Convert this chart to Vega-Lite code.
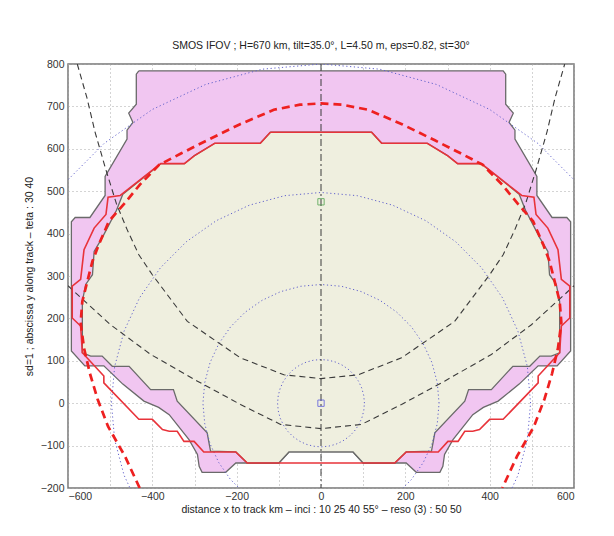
{
  "$schema": "https://vega.github.io/schema/vega-lite/v6.json",
  "width": 506,
  "height": 424,
  "autosize": {"type": "none"},
  "padding": {"left": 68, "top": 64, "right": 40, "bottom": 48},
  "background": "white",
  "title": {"text": "SMOS IFOV  ;  H=670 km, tilt=35.0°, L=4.50 m, eps=0.82, st=30°", "font": "Liberation Sans", "fontSize": 10.5, "fontWeight": "normal", "color": "#222", "offset": 8, "anchor": "middle"},
  "config": {
    "view": {"stroke": "#777", "strokeWidth": 1.5},
    "axis": {"labelFont": "Liberation Sans", "labelFontSize": 10.5, "labelColor": "#333", "titleFont": "Liberation Sans", "titleFontSize": 10.5, "titleFontWeight": "normal", "titleColor": "#222", "domain": false, "ticks": false, "grid": true, "gridColor": "#a8a8a8", "gridDash": [1, 3], "gridWidth": 1, "zindex": 1}
  },
  "datasets": {
    "pink": [
      {"i":1,"x":-432,"y":784},{"i":2,"x":432,"y":784},{"i":3,"x":438,"y":776},{"i":4,"x":438,"y":705},{"i":5,"x":456,"y":684},{"i":6,"x":446,"y":662},{"i":7,"x":460,"y":644},{"i":8,"x":460,"y":623},{"i":9,"x":512,"y":535},{"i":10,"x":512,"y":490},{"i":11,"x":548,"y":438},{"i":12,"x":583,"y":438},{"i":13,"x":592,"y":428},{"i":14,"x":592,"y":123},{"i":15,"x":560,"y":88},{"i":16,"x":515,"y":88},{"i":17,"x":470,"y":45},{"i":18,"x":420,"y":5},{"i":19,"x":385,"y":-10},{"i":20,"x":360,"y":-27},{"i":21,"x":313,"y":-86},{"i":22,"x":293,"y":-121},{"i":23,"x":289,"y":-149},{"i":24,"x":282,"y":-163},{"i":25,"x":226,"y":-163},{"i":26,"x":202,"y":-141},{"i":27,"x":100,"y":-141},{"i":28,"x":76,"y":-115},{"i":29,"x":-76,"y":-115},{"i":30,"x":-100,"y":-141},{"i":31,"x":-202,"y":-141},{"i":32,"x":-226,"y":-163},{"i":33,"x":-282,"y":-163},{"i":34,"x":-289,"y":-149},{"i":35,"x":-293,"y":-121},{"i":36,"x":-313,"y":-86},{"i":37,"x":-360,"y":-27},{"i":38,"x":-385,"y":-10},{"i":39,"x":-420,"y":5},{"i":40,"x":-470,"y":45},{"i":41,"x":-515,"y":88},{"i":42,"x":-560,"y":88},{"i":43,"x":-592,"y":123},{"i":44,"x":-592,"y":428},{"i":45,"x":-583,"y":438},{"i":46,"x":-548,"y":438},{"i":47,"x":-512,"y":490},{"i":48,"x":-512,"y":535},{"i":49,"x":-460,"y":623},{"i":50,"x":-460,"y":644},{"i":51,"x":-446,"y":662},{"i":52,"x":-456,"y":684},{"i":53,"x":-438,"y":705},{"i":54,"x":-438,"y":776},{"i":55,"x":-432,"y":784}
    ],
    "yellow": [
      {"i":1,"x":-380,"y":565},{"i":2,"x":-324,"y":565},{"i":3,"x":-300,"y":584},{"i":4,"x":-252,"y":613},{"i":5,"x":-144,"y":613},{"i":6,"x":-120,"y":639},{"i":7,"x":120,"y":639},{"i":8,"x":144,"y":613},{"i":9,"x":252,"y":613},{"i":10,"x":300,"y":584},{"i":11,"x":324,"y":565},{"i":12,"x":380,"y":565},{"i":13,"x":470,"y":493},{"i":14,"x":485,"y":455},{"i":15,"x":519,"y":390},{"i":16,"x":538,"y":358},{"i":17,"x":542,"y":303},{"i":18,"x":558,"y":280},{"i":19,"x":566,"y":240},{"i":20,"x":566,"y":119},{"i":21,"x":546,"y":111},{"i":22,"x":519,"y":111},{"i":23,"x":495,"y":87},{"i":24,"x":455,"y":87},{"i":25,"x":404,"y":32},{"i":26,"x":350,"y":32},{"i":27,"x":341,"y":5},{"i":28,"x":270,"y":-70},{"i":29,"x":262,"y":-113},{"i":30,"x":202,"y":-115},{"i":31,"x":175,"y":-141},{"i":32,"x":100,"y":-141},{"i":33,"x":76,"y":-115},{"i":34,"x":-76,"y":-115},{"i":35,"x":-100,"y":-141},{"i":36,"x":-175,"y":-141},{"i":37,"x":-202,"y":-115},{"i":38,"x":-262,"y":-113},{"i":39,"x":-270,"y":-70},{"i":40,"x":-341,"y":5},{"i":41,"x":-350,"y":32},{"i":42,"x":-404,"y":32},{"i":43,"x":-455,"y":87},{"i":44,"x":-495,"y":87},{"i":45,"x":-519,"y":111},{"i":46,"x":-546,"y":111},{"i":47,"x":-566,"y":119},{"i":48,"x":-566,"y":240},{"i":49,"x":-558,"y":280},{"i":50,"x":-542,"y":303},{"i":51,"x":-538,"y":358},{"i":52,"x":-519,"y":390},{"i":53,"x":-485,"y":455},{"i":54,"x":-470,"y":493},{"i":55,"x":-380,"y":565}
    ],
    "redsolid": [
      {"i":1,"x":-120,"y":639},{"i":2,"x":120,"y":639},{"i":3,"x":144,"y":613},{"i":4,"x":252,"y":613},{"i":5,"x":300,"y":584},{"i":6,"x":324,"y":565},{"i":7,"x":380,"y":565},{"i":8,"x":476,"y":490},{"i":9,"x":505,"y":486},{"i":10,"x":510,"y":445},{"i":11,"x":538,"y":413},{"i":12,"x":562,"y":362},{"i":13,"x":570,"y":292},{"i":14,"x":590,"y":276},{"i":15,"x":590,"y":201},{"i":16,"x":570,"y":182},{"i":17,"x":566,"y":119},{"i":18,"x":515,"y":64},{"i":19,"x":515,"y":48},{"i":20,"x":432,"y":-38},{"i":21,"x":400,"y":-38},{"i":22,"x":376,"y":-62},{"i":23,"x":360,"y":-66},{"i":24,"x":341,"y":-66},{"i":25,"x":325,"y":-90},{"i":26,"x":301,"y":-90},{"i":27,"x":278,"y":-115},{"i":28,"x":202,"y":-115},{"i":29,"x":175,"y":-141},{"i":30,"x":-175,"y":-141},{"i":31,"x":-202,"y":-115},{"i":32,"x":-278,"y":-115},{"i":33,"x":-301,"y":-90},{"i":34,"x":-325,"y":-90},{"i":35,"x":-341,"y":-66},{"i":36,"x":-360,"y":-66},{"i":37,"x":-376,"y":-62},{"i":38,"x":-400,"y":-38},{"i":39,"x":-432,"y":-38},{"i":40,"x":-515,"y":48},{"i":41,"x":-515,"y":64},{"i":42,"x":-566,"y":119},{"i":43,"x":-570,"y":182},{"i":44,"x":-590,"y":201},{"i":45,"x":-590,"y":276},{"i":46,"x":-570,"y":292},{"i":47,"x":-562,"y":362},{"i":48,"x":-538,"y":413},{"i":49,"x":-510,"y":445},{"i":50,"x":-505,"y":486},{"i":51,"x":-476,"y":490},{"i":52,"x":-380,"y":565},{"i":53,"x":-324,"y":565},{"i":54,"x":-300,"y":584},{"i":55,"x":-252,"y":613},{"i":56,"x":-144,"y":613},{"i":57,"x":-120,"y":639}
    ],
    "reddash": [
      {"i":1,"x":-430,"y":-200},{"i":2,"x":-465,"y":-125},{"i":3,"x":-505,"y":-55},{"i":4,"x":-530,"y":10},{"i":5,"x":-548,"y":70},{"i":6,"x":-562,"y":130},{"i":7,"x":-570,"y":190},{"i":8,"x":-566,"y":240},{"i":9,"x":-554,"y":288},{"i":10,"x":-542,"y":335},{"i":11,"x":-527,"y":374},{"i":12,"x":-503,"y":429},{"i":13,"x":-467,"y":470},{"i":14,"x":-430,"y":515},{"i":15,"x":-384,"y":562},{"i":16,"x":-330,"y":590},{"i":17,"x":-270,"y":620},{"i":18,"x":-192,"y":658},{"i":19,"x":-112,"y":692},{"i":20,"x":-50,"y":704},{"i":21,"x":0,"y":707},{"i":22,"x":50,"y":704},{"i":23,"x":112,"y":692},{"i":24,"x":192,"y":658},{"i":25,"x":270,"y":620},{"i":26,"x":330,"y":590},{"i":27,"x":384,"y":562},{"i":28,"x":430,"y":515},{"i":29,"x":467,"y":470},{"i":30,"x":503,"y":429},{"i":31,"x":527,"y":374},{"i":32,"x":542,"y":335},{"i":33,"x":554,"y":288},{"i":34,"x":566,"y":240},{"i":35,"x":570,"y":190},{"i":36,"x":562,"y":130},{"i":37,"x":548,"y":70},{"i":38,"x":530,"y":10},{"i":39,"x":505,"y":-55},{"i":40,"x":465,"y":-125},{"i":41,"x":430,"y":-200}
    ],
    "inci": [
      {"c":"A","i":1,"x":-578,"y":800},{"c":"A","i":2,"x":-555,"y":720},{"c":"A","i":3,"x":-536,"y":640},{"c":"A","i":4,"x":-510,"y":550},{"c":"A","i":5,"x":-485,"y":470},{"c":"A","i":6,"x":-460,"y":410},{"c":"A","i":7,"x":-432,"y":350},{"c":"A","i":8,"x":-400,"y":303},{"c":"A","i":9,"x":-317,"y":193},{"c":"A","i":10,"x":-191,"y":107},{"c":"A","i":11,"x":-88,"y":67},{"c":"A","i":12,"x":0,"y":58},{"c":"A","i":13,"x":88,"y":67},{"c":"A","i":14,"x":191,"y":107},{"c":"A","i":15,"x":317,"y":193},{"c":"A","i":16,"x":400,"y":303},{"c":"A","i":17,"x":432,"y":350},{"c":"A","i":18,"x":460,"y":410},{"c":"A","i":19,"x":485,"y":470},{"c":"A","i":20,"x":510,"y":550},{"c":"A","i":21,"x":536,"y":640},{"c":"A","i":22,"x":555,"y":720},{"c":"A","i":23,"x":578,"y":800},
      {"c":"B","i":1,"x":-600,"y":277},{"c":"B","i":2,"x":-586,"y":264},{"c":"B","i":3,"x":-499,"y":185},{"c":"B","i":4,"x":-404,"y":115},{"c":"B","i":5,"x":-293,"y":52},{"c":"B","i":6,"x":-191,"y":-3},{"c":"B","i":7,"x":-96,"y":-50},{"c":"B","i":8,"x":0,"y":-60},{"c":"B","i":9,"x":96,"y":-50},{"c":"B","i":10,"x":191,"y":-3},{"c":"B","i":11,"x":293,"y":52},{"c":"B","i":12,"x":404,"y":115},{"c":"B","i":13,"x":499,"y":185},{"c":"B","i":14,"x":586,"y":264},{"c":"B","i":15,"x":600,"y":277}
    ],
    "circles": [
      {"r":103,"a":0,"x":103,"y":0},{"r":103,"a":10,"x":101.4,"y":17.9},{"r":103,"a":20,"x":96.8,"y":35.2},{"r":103,"a":30,"x":89.2,"y":51.5},{"r":103,"a":40,"x":78.9,"y":66.2},{"r":103,"a":50,"x":66.2,"y":78.9},{"r":103,"a":60,"x":51.5,"y":89.2},{"r":103,"a":70,"x":35.2,"y":96.8},{"r":103,"a":80,"x":17.9,"y":101.4},{"r":103,"a":90,"x":0,"y":103},{"r":103,"a":100,"x":-17.9,"y":101.4},{"r":103,"a":110,"x":-35.2,"y":96.8},{"r":103,"a":120,"x":-51.5,"y":89.2},{"r":103,"a":130,"x":-66.2,"y":78.9},{"r":103,"a":140,"x":-78.9,"y":66.2},{"r":103,"a":150,"x":-89.2,"y":51.5},{"r":103,"a":160,"x":-96.8,"y":35.2},{"r":103,"a":170,"x":-101.4,"y":17.9},{"r":103,"a":180,"x":-103,"y":0},{"r":103,"a":190,"x":-101.4,"y":-17.9},{"r":103,"a":200,"x":-96.8,"y":-35.2},{"r":103,"a":210,"x":-89.2,"y":-51.5},{"r":103,"a":220,"x":-78.9,"y":-66.2},{"r":103,"a":230,"x":-66.2,"y":-78.9},{"r":103,"a":240,"x":-51.5,"y":-89.2},{"r":103,"a":250,"x":-35.2,"y":-96.8},{"r":103,"a":260,"x":-17.9,"y":-101.4},{"r":103,"a":270,"x":0,"y":-103},{"r":103,"a":280,"x":17.9,"y":-101.4},{"r":103,"a":290,"x":35.2,"y":-96.8},{"r":103,"a":300,"x":51.5,"y":-89.2},{"r":103,"a":310,"x":66.2,"y":-78.9},{"r":103,"a":320,"x":78.9,"y":-66.2},{"r":103,"a":330,"x":89.2,"y":-51.5},{"r":103,"a":340,"x":96.8,"y":-35.2},{"r":103,"a":350,"x":101.4,"y":-17.9},{"r":103,"a":360,"x":103,"y":0},
      {"r":280,"a":0,"x":280,"y":0},{"r":280,"a":10,"x":275.7,"y":48.6},{"r":280,"a":20,"x":263.1,"y":95.8},{"r":280,"a":30,"x":242.5,"y":140},{"r":280,"a":40,"x":214.5,"y":180},{"r":280,"a":50,"x":180,"y":214.5},{"r":280,"a":60,"x":140,"y":242.5},{"r":280,"a":70,"x":95.8,"y":263.1},{"r":280,"a":80,"x":48.6,"y":275.7},{"r":280,"a":90,"x":0,"y":280},{"r":280,"a":100,"x":-48.6,"y":275.7},{"r":280,"a":110,"x":-95.8,"y":263.1},{"r":280,"a":120,"x":-140,"y":242.5},{"r":280,"a":130,"x":-180,"y":214.5},{"r":280,"a":140,"x":-214.5,"y":180},{"r":280,"a":150,"x":-242.5,"y":140},{"r":280,"a":160,"x":-263.1,"y":95.8},{"r":280,"a":170,"x":-275.7,"y":48.6},{"r":280,"a":180,"x":-280,"y":0},{"r":280,"a":190,"x":-275.7,"y":-48.6},{"r":280,"a":200,"x":-263.1,"y":-95.8},{"r":280,"a":210,"x":-242.5,"y":-140},{"r":280,"a":220,"x":-214.5,"y":-180},{"r":280,"a":230,"x":-180,"y":-214.5},{"r":280,"a":240,"x":-140,"y":-242.5},{"r":280,"a":300,"x":140,"y":-242.5},{"r":280,"a":310,"x":180,"y":-214.5},{"r":280,"a":320,"x":214.5,"y":-180},{"r":280,"a":330,"x":242.5,"y":-140},{"r":280,"a":340,"x":263.1,"y":-95.8},{"r":280,"a":350,"x":275.7,"y":-48.6},{"r":280,"a":360,"x":280,"y":0},
      {"r":497,"a":0,"x":497,"y":0},{"r":497,"a":10,"x":489.4,"y":86.3},{"r":497,"a":20,"x":467,"y":170},{"r":497,"a":30,"x":430.4,"y":248.5},{"r":497,"a":40,"x":380.7,"y":319.5},{"r":497,"a":50,"x":319.5,"y":380.7},{"r":497,"a":60,"x":248.5,"y":430.4},{"r":497,"a":70,"x":170,"y":467},{"r":497,"a":80,"x":86.3,"y":489.4},{"r":497,"a":90,"x":0,"y":497},{"r":497,"a":100,"x":-86.3,"y":489.4},{"r":497,"a":110,"x":-170,"y":467},{"r":497,"a":120,"x":-248.5,"y":430.4},{"r":497,"a":130,"x":-319.5,"y":380.7},{"r":497,"a":140,"x":-380.7,"y":319.5},{"r":497,"a":150,"x":-430.4,"y":248.5},{"r":497,"a":160,"x":-467,"y":170},{"r":497,"a":170,"x":-489.4,"y":86.3},{"r":497,"a":180,"x":-497,"y":0},{"r":497,"a":190,"x":-489.4,"y":-86.3},{"r":497,"a":200,"x":-467,"y":-170},{"r":497,"a":210,"x":-430.4,"y":-248.5},
      {"r":4970,"a":330,"x":430.4,"y":-248.5},{"r":4970,"a":340,"x":467,"y":-170},{"r":4970,"a":350,"x":489.4,"y":-86.3},{"r":4970,"a":360,"x":497,"y":0},
      {"r":800,"a":30,"x":692.8,"y":400},{"r":800,"a":40,"x":612.8,"y":514.2},{"r":800,"a":50,"x":514.2,"y":612.8},{"r":800,"a":60,"x":400,"y":692.8},{"r":800,"a":70,"x":273.6,"y":751.8},{"r":800,"a":80,"x":138.9,"y":787.8},{"r":800,"a":90,"x":0,"y":800},{"r":800,"a":100,"x":-138.9,"y":787.8},{"r":800,"a":110,"x":-273.6,"y":751.8},{"r":800,"a":120,"x":-400,"y":692.8},{"r":800,"a":130,"x":-514.2,"y":612.8},{"r":800,"a":140,"x":-612.8,"y":514.2},{"r":800,"a":150,"x":-692.8,"y":400}
    ],
    "marks": [
      {"x":0,"y":0,"c":"blue"},{"x":0,"y":475,"c":"green"}
    ]
  },
  "layer": [
    {
      "data": {"name": "pink"},
      "mark": {"type": "line", "fill": "#f1c6f1", "stroke": "#6a6a6a", "strokeWidth": 1.3, "strokeJoin": "miter"},
      "encoding": {
        "x": {"field": "x", "type": "quantitative", "scale": {"domain": [-600, 600], "nice": false, "zero": false},
          "axis": {"values": [-600,-500,-400,-300,-200,-100,0,100,200,300,400,500,600], "labelExpr": "datum.value % 200 === 0 ? datum.label : ''", "labelPadding": 3, "title": "distance x to track km – inci : 10 25 40 55° – reso (3) : 50 50", "titlePadding": 3}},
        "y": {"field": "y", "type": "quantitative", "scale": {"domain": [-200, 800], "nice": false, "zero": false},
          "axis": {"values": [-200,-100,0,100,200,300,400,500,600,700,800], "labelPadding": 4, "title": "sd=1 ; abscissa y along track – teta : 30 40", "titlePadding": 6}},
        "order": {"field": "i", "type": "quantitative"}
      }
    },
    {
      "data": {"name": "yellow"},
      "mark": {"type": "line", "fill": "#efefdf", "stroke": "#6a6a6a", "strokeWidth": 1.3, "strokeJoin": "miter"},
      "encoding": {
        "x": {"field": "x", "type": "quantitative"},
        "y": {"field": "y", "type": "quantitative"},
        "order": {"field": "i", "type": "quantitative"}
      }
    },
    {
      "data": {"name": "circles"},
      "mark": {"type": "line", "clip": true, "stroke": "#6262cc", "strokeWidth": 1, "strokeDash": [1.2, 2.6]},
      "encoding": {
        "x": {"field": "x", "type": "quantitative"},
        "y": {"field": "y", "type": "quantitative"},
        "detail": {"field": "r", "type": "nominal"},
        "order": {"field": "a", "type": "quantitative"}
      }
    },
    {
      "data": {"values": [{"x": 0}]},
      "mark": {"type": "rule", "stroke": "#3a3a3a", "strokeWidth": 1, "strokeDash": [7, 3, 2, 3]},
      "encoding": {"x": {"field": "x", "type": "quantitative"}}
    },
    {
      "data": {"name": "inci"},
      "mark": {"type": "line", "clip": true, "stroke": "#3a3a3a", "strokeWidth": 1.1, "strokeDash": [6, 4]},
      "encoding": {
        "x": {"field": "x", "type": "quantitative"},
        "y": {"field": "y", "type": "quantitative"},
        "detail": {"field": "c", "type": "nominal"},
        "order": {"field": "i", "type": "quantitative"}
      }
    },
    {
      "data": {"name": "redsolid"},
      "mark": {"type": "line", "stroke": "#e8333a", "strokeWidth": 1.6, "strokeJoin": "miter"},
      "encoding": {
        "x": {"field": "x", "type": "quantitative"},
        "y": {"field": "y", "type": "quantitative"},
        "order": {"field": "i", "type": "quantitative"}
      }
    },
    {
      "data": {"name": "reddash"},
      "mark": {"type": "line", "clip": true, "stroke": "#ee2020", "strokeWidth": 2.7, "strokeDash": [8, 5]},
      "encoding": {
        "x": {"field": "x", "type": "quantitative"},
        "y": {"field": "y", "type": "quantitative"},
        "order": {"field": "i", "type": "quantitative"}
      }
    },
    {
      "data": {"name": "marks"},
      "mark": {"type": "point", "shape": "square", "filled": false, "size": 40, "strokeWidth": 1},
      "encoding": {
        "x": {"field": "x", "type": "quantitative"},
        "y": {"field": "y", "type": "quantitative"},
        "color": {"field": "c", "type": "nominal", "scale": {"domain": ["blue", "green"], "range": ["#4646dc", "#3d9a3d"]}, "legend": null}
      }
    }
  ]
}
